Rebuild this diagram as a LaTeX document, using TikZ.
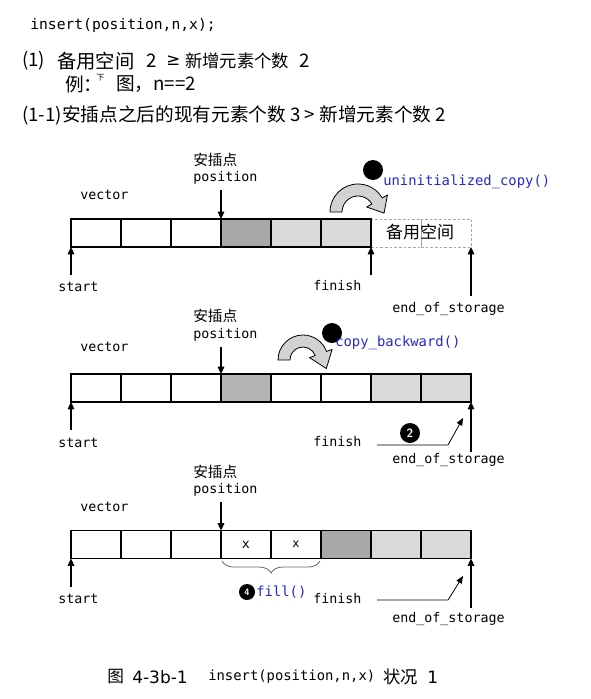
\documentclass[tikz,border=0pt]{standalone}
\usepackage{fontspec}
\usepackage{graphicx}
\setmainfont{DejaVu Sans}
\setmonofont{DejaVu Sans Mono}
\newfontfamily\cjk{Noto Sans CJK SC}
\usetikzlibrary{arrows.meta,calc,decorations.pathreplacing}
\definecolor{darkcell}{HTML}{A8A8A8}
\definecolor{midcell}{HTML}{B4B4B4}
\definecolor{lightcell}{HTML}{D9D9D9}
\definecolor{arrowfill}{HTML}{D2D2D2}
\definecolor{codeblue}{HTML}{2828D0}
\tikzset{
 cell/.style={draw, line width=0.8pt, minimum width=37.5pt, minimum height=21pt, inner sep=0pt, outer sep=0pt},
 spare/.style={draw=gray!70, dash pattern=on 2pt off 1.5pt, line width=0.6pt, minimum width=37.5pt, minimum height=21pt, inner sep=0pt, outer sep=0pt},
 lbl/.style={font=\ttfamily\fontsize{10}{12}\selectfont, inner sep=0pt, anchor=west},
 cn/.style={font=\cjk\fontsize{11}{13}\selectfont, inner sep=0pt, anchor=west},
 hdr/.style={font=\cjk\fontsize{14}{16}\selectfont, inner sep=0pt, anchor=west},
 code/.style={font=\ttfamily\fontsize{10.4}{12}\selectfont, text=codeblue, inner sep=0pt, anchor=west},
 ptr/.style={line width=0.8pt, -{Triangle[length=5.5pt,width=5pt]}},
 thinptr/.style={line width=0.6pt, -{Triangle[length=5.5pt,width=4.5pt]}},
 ball/.style={circle, fill=black, minimum size=15pt, inner sep=0pt, text=white, font=\sffamily\bfseries\fontsize{9}{9}\selectfont},
 bendarrow/.style={fill=arrowfill, draw=black, line width=0.6pt, line join=round},
}
\newcommand\bendArrow[6]{%
 \begin{scope}[shift={(#1,#2)}, x=0.75pt, y=0.75pt]
 \pgfmathsetmacro\bmid{(#3+#4)/2}
 \filldraw[bendarrow] (180:#3) arc[start angle=180, end angle=#5, radius=#3]
  -- ({#5}:{#3+6}) -- ($({#5}:\bmid)+({#5-90}:#6)$) -- ({#5}:{#4-6}) -- ({#5}:#4)
  arc[start angle=#5, end angle=180, radius=#4] -- cycle;
 \end{scope}}
\begin{document}
\begin{tikzpicture}[x=0.75pt,y=-0.75pt]
\useasboundingbox[fill=white] (0,0) rectangle (590,699);

% header
\node[lbl, font=\ttfamily\fontsize{11}{13}\selectfont] (title) at (30,25) {insert(position,n,x);};
\node[hdr] (h1a) at (22,61) {(1)};
\node[hdr, font=\cjk\fontsize{14.5}{16}\selectfont] (h1b) at (57,61) {备用空间};
\node[hdr] (h1c) at (146,61) {2};
\node[hdr, font=\fontsize{12.5}{14}\selectfont] (h1d) at (166,61) {≥};
\node[hdr, font=\cjk\fontsize{13}{16}\selectfont] (h1e) at (185,61) {新增元素个数};
\node[hdr] (h1f) at (299,61) {2};
\node[hdr] (h2a) at (65,84) {例：};
\node[hdr, font=\cjk\fontsize{6}{6}\selectfont] (h2b) at (96,78) {下};
\node[hdr] (h2c) at (116,84) {图，};
\node[hdr] (h2d) at (153,84) {n==2};
\node[hdr] (h3) at (22,115) {(1-1)安插点之后的现有元素个数 3 > 新增元素个数 2};

% ---------- diagram 1
\node[spare] (r1c7) at (396,233) {};
\node[spare] (r1c8) at (446,233) {};
\foreach \k/\s in {1/white,2/white,3/white,4/darkcell,5/lightcell,6/lightcell}
 \node[cell, fill=\s] (r1c\k) at ({96+50*(\k-1)},233) {};
\node[font=\cjk\fontsize{12.75}{14}\selectfont, inner sep=0pt] (spare1) at (420,232) {备用空间};
\node[cn] (ins1) at (193,160) {安插点};
\node[lbl] (pos1) at (193,178) {position};
\node[lbl] (vec1) at (80,195) {vector};
\node[lbl] (st1) at (58,287) {start};
\node[lbl] (fin1) at (313,286) {finish};
\node[lbl] (eos1) at (392,309) {end\_of\_storage};
\coordinate (p1) at (221,190);
\draw[ptr] (p1) -- (r1c4.north west);
\coordinate (s1) at (71,275);
\draw[ptr] (s1) -- (r1c1.south west);
\coordinate (f1) at (371,275);
\draw[ptr] (f1) -- (r1c6.south east);
\coordinate (e1) at (471,296);
\draw[ptr] (e1) -- (r1c8.south east);
\bendArrow{358}{212}{28}{16}{30}{14}
\node[ball] (b1) at (373,170) {};
\node[code] (uc) at (383,182) {uninitialized\_copy()};

% ---------- diagram 2
\foreach \k/\s in {1/white,2/white,3/white,4/midcell,5/white,6/white,7/lightcell,8/lightcell}
 \node[cell, fill=\s] (r2c\k) at ({96+50*(\k-1)},388) {};
\node[cn] (ins2) at (193,316) {安插点};
\node[lbl] (pos2) at (193,335) {position};
\node[lbl] (vec2) at (80,347) {vector};
\node[lbl] (st2) at (58,443) {start};
\node[lbl] (fin2) at (313,442) {finish};
\node[lbl] (eos2) at (392,460) {end\_of\_storage};
\coordinate (p2) at (221,347);
\draw[ptr] (p2) -- (r2c4.north west);
\coordinate (s2) at (71,430);
\draw[ptr] (s2) -- (r2c1.south west);
\coordinate (e2) at (471,452);
\draw[ptr] (e2) -- (r2c8.south east);
\coordinate (f2a) at (377,445);
\coordinate (f2b) at (448,445);
\coordinate (f2c) at (463,418);
\draw[thinptr] (f2a) -- (f2b) -- (f2c);
\node[ball] (b2) at (410,433) {2};
\bendArrow{303}{360}{25}{13}{20}{16}
\node[ball] (b3) at (332,333) {};
\node[code] (cb) at (335,343) {copy\_backward()};

% ---------- diagram 3
\foreach \k/\s in {1/white,2/white,3/white,4/white,5/white,6/darkcell,7/lightcell,8/lightcell}
 \node[cell, fill=\s] (r3c\k) at ({96+50*(\k-1)},544.5) {};
\node[font=\ttfamily\fontsize{10}{12}\selectfont, inner sep=0pt] (x1) at (r3c4) {x};
\node[font=\ttfamily\fontsize{9}{12}\selectfont, inner sep=0pt] (x2) at (r3c5) {x};
\node[cn] (ins3) at (193,472) {安插点};
\node[lbl] (pos3) at (193,490) {position};
\node[lbl] (vec3) at (80,507) {vector};
\node[lbl] (st3) at (58,599) {start};
\node[lbl] (fin3) at (313,599) {finish};
\node[lbl] (eos3) at (392,619) {end\_of\_storage};
\coordinate (p3) at (221,502);
\draw[ptr] (p3) -- (r3c4.north west);
\coordinate (s3) at (71,587);
\draw[ptr] (s3) -- (r3c1.south west);
\coordinate (e3) at (471,608);
\draw[ptr] (e3) -- (r3c8.south east);
\coordinate (f3a) at (377,600);
\coordinate (f3b) at (448,600);
\coordinate (f3c) at (463,576);
\draw[thinptr] (f3a) -- (f3b) -- (f3c);
\coordinate (br1) at (222,561);
\coordinate (br2) at (320,561);
\draw[decorate, decoration={brace, mirror, amplitude=9pt}, draw=gray!80!black, line width=0.6pt] (br1) -- (br2);
\node[ball, minimum size=12pt, font=\sffamily\bfseries\fontsize{7}{7}\selectfont] (b4) at (247,592) {4};
\node[code] (fl) at (256,592) {fill()};

% caption
\node[anchor=west, inner sep=0pt, font=\cjk\fontsize{12.5}{14}\selectfont] (cap1) at (107,677) {图};
\node[anchor=west, inner sep=0pt, font=\fontsize{12.75}{14}\selectfont] (cap2) at (132,677) {4-3b-1};
\node[anchor=west, inner sep=0pt, font=\ttfamily\fontsize{10.4}{12}\selectfont] (cap3) at (208,677) {insert(position,n,x)};
\node[anchor=west, inner sep=0pt, font=\cjk\fontsize{13}{14}\selectfont] (cap4) at (383,677) {状况};
\node[anchor=west, inner sep=0pt, font=\fontsize{12.75}{14}\selectfont] (cap5) at (427,677) {1};
\end{tikzpicture}
\end{document}
